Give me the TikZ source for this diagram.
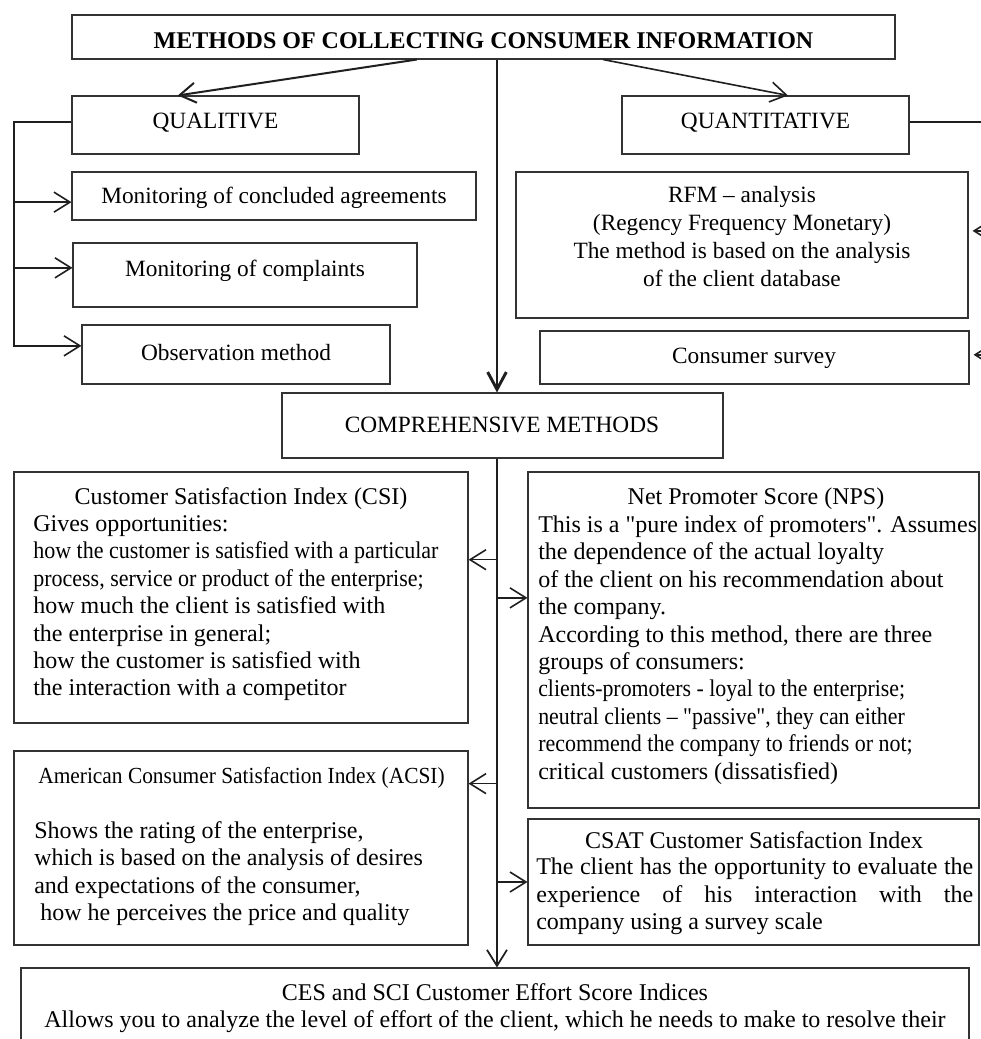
\documentclass[tikz,border=0pt]{standalone}
\usepackage{fontspec}
\setmainfont{Liberation Serif}[Ligatures=TeXOff]
\usetikzlibrary{arrows.meta,calc,fit}
\newcommand{\narrow}[2]{\scalebox{#1}[1]{#2}}
\begin{document}
\begin{tikzpicture}[x=0.75pt,y=-0.75pt,
  box/.style={draw=black!80, line width=0.8pt, inner sep=0pt},
  txt/.style={inner sep=0pt, font=\fontsize{17.5}{20.6}\selectfont},
  btxt/.style={inner sep=0pt, font=\fontsize{18}{20.6}\selectfont},
  conn/.style={draw=black!88, line width=1.2pt, -{Straight Barb[length=12pt,width=15pt]}},
  thickconn/.style={draw=black!88, line width=2.2pt, -{Straight Barb[length=13pt,width=14pt]}}
]
\useasboundingbox (0,0) rectangle (981,1039);
\fill[white] (0,0) rectangle (981,1039);

% boxes
\node[box, fit={(72,15) (895,59)}] (title) {};
\node[box, fit={(72,96) (359,154)}] (qual) {};
\node[box, fit={(622,96) (909,154)}] (quant) {};
\node[box, fit={(72,172) (476,220)}] (mon1) {};
\node[box, fit={(73,243) (417,307)}] (mon2) {};
\node[box, fit={(82,325) (390,384)}] (obs) {};
\node[box, fit={(516,172) (968,318)}] (rfm) {};
\node[box, fit={(540,331) (969,384)}] (survey) {};
\node[box, fit={(282,393) (723,458)}] (comp) {};
\node[box, fit={(14,472) (468,723)}] (csi) {};
\node[box, fit={(528,472) (979,808)}] (nps) {};
\node[box, fit={(14,751) (468,945)}] (acsi) {};
\node[box, fit={(528,819) (979,945)}] (csat) {};
\node[box, fit={(21,968) (969,1075)}] (ces) {};

% texts
\node[txt, anchor=base] (title-t) at (483.5,48) {\fontsize{18}{20}\selectfont\bfseries METHODS OF COLLECTING CONSUMER INFORMATION};
\node[txt, anchor=base] (qual-t) at (215.5,128) {QUALITIVE};
\node[txt, anchor=base] (quant-t) at (765.5,128) {QUANTITATIVE};
\node[txt, anchor=base] (mon1-t) at (274,203) {Monitoring of concluded agreements};
\node[txt, anchor=base] (mon2-t) at (245,276) {Monitoring of complaints};
\node[txt, anchor=base] (obs-t) at (236,360) {Observation method};
\node[txt, anchor=north, align=center, font=\fontsize{17.5}{21}\selectfont] (rfm-t) at (742,186)
  {RFM – analysis\\(Regency Frequency Monetary)\\The method is based on the analysis\\of the client database};
\node[txt, anchor=base] (survey-t) at (754,363) {Consumer survey};
\node[txt, anchor=base] (comp-t) at (502,432) {COMPREHENSIVE METHODS};

\node[btxt, anchor=base] (csi-h) at (241,504) {Customer Satisfaction Index (CSI)};
\node[btxt, anchor=north west, align=left] (csi-t) at (33,515)
  {Gives opportunities:\\\narrow{0.917}{how the customer is satisfied with a particular}\\\narrow{0.917}{process, service or product of the enterprise;}\\how much the client is satisfied with\\the enterprise in general;\\how the customer is satisfied with\\the interaction with a competitor};

\node[btxt, anchor=base] (nps-h) at (756,504) {Net Promoter Score (NPS)};
\node[btxt, anchor=north west, align=left] (nps-t) at (538,515)
  {This is a "pure index of promoters". Assumes\\the dependence of the actual loyalty\\of the client on his recommendation about\\the company.\\According to this method, there are three\\groups of consumers:\\\narrow{0.91}{clients-promoters - loyal to the enterprise;}\\\narrow{0.91}{neutral clients – "passive", they can either}\\\narrow{0.915}{recommend the company to friends or not;}\\critical customers (dissatisfied)};

\node[txt, anchor=base] (acsi-h) at (241.5,783) {\fontsize{17.25}{20}\selectfont\narrow{0.93}{American Consumer Satisfaction Index (ACSI)}};
\node[btxt, anchor=north west, align=left] (acsi-t) at (34,821)
  {Shows the rating of the enterprise,\\which is based on the analysis of desires\\and expectations of the consumer,\\\hspace{4.5pt}how he perceives the price and quality};

\node[btxt, anchor=base] (csat-h) at (754,848) {CSAT Customer Satisfaction Index};
\node[btxt, anchor=north west, align=left] (csat-t) at (536,858)
  {\makebox[327.75pt][s]{The client has the opportunity to evaluate the}\\\makebox[327.75pt][s]{experience of his interaction with the}\\company using a survey scale};

\node[btxt, anchor=north, align=center] (ces-t) at (495,983)
  {CES and SCI Customer Effort Score Indices\\Allows you to analyze the level of effort of the client, which he needs to make to resolve their};

% connectors: top
\draw[conn, line width=1.5pt] ($(title.south west)!0.419!(title.south east)$) -- ($(qual.north west)!0.369!(qual.north east)$);
\draw[conn] ($(title.south west)!0.645!(title.south east)$) -- ($(quant.north west)!0.578!(quant.north east)$);
\coordinate (cN) at ($(comp.north west)!0.4875!(comp.north east)$);
\draw[thickconn] (title.south -| cN) -- (cN);

% left bracket
\coordinate (Lx) at (14,0);
\coordinate (qa) at ($(qual.north west)!0.45!(qual.south west)$);
\coordinate (m1a) at ($(mon1.north west)!0.625!(mon1.south west)$);
\coordinate (m2a) at ($(mon2.north west)!0.39!(mon2.south west)$);
\coordinate (oba) at ($(obs.north west)!0.356!(obs.south west)$);
\draw[conn] (qa) -| (Lx |- oba) -- (oba);
\draw[conn] (Lx |- m1a) -- (m1a);
\draw[conn] (Lx |- m2a) -- (m2a);

% right bracket
\coordinate (Rx) at (995,0);
\coordinate (qra) at ($(quant.north east)!0.45!(quant.south east)$);
\coordinate (rfa) at ($(rfm.north east)!0.404!(rfm.south east)$);
\coordinate (sva) at ($(survey.north east)!0.45!(survey.south east)$);
\draw[conn, shorten >=3pt] (qra) -| (Rx |- sva) -- (sva);
\draw[conn, shorten >=3pt] (Rx |- rfa) -- (rfa);

% lower spine
\coordinate (cS) at ($(comp.south west)!0.4875!(comp.south east)$);
\draw[conn, line width=1.3pt] (cS) -- (ces.north -| cS);
\coordinate (csia) at ($(csi.north east)!0.35!(csi.south east)$);
\coordinate (npsa) at ($(nps.north west)!0.375!(nps.south west)$);
\coordinate (acsia) at ($(acsi.north east)!0.17!(acsi.south east)$);
\coordinate (csata) at ($(csat.north west)!0.5!(csat.south west)$);
\draw[conn] (cS |- csia) -- (csia);
\draw[conn] (cS |- npsa) -- (npsa);
\draw[conn] (cS |- acsia) -- (acsia);
\draw[conn] (cS |- csata) -- (csata);
\end{tikzpicture}
\end{document}
